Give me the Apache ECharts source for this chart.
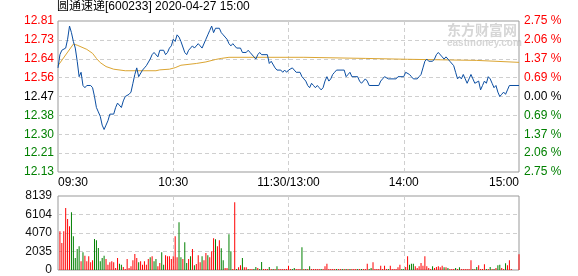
<!DOCTYPE html>
<html>
<head>
<meta charset="utf-8">
<script src="https://cdn.jsdelivr.net/npm/echarts@6/dist/echarts.min.js"></script>
<style>
html,body{margin:0;padding:0;background:#fff;}
#chart{width:578px;height:276px;}
</style>
</head>
<body>
<div id="chart"></div>
<script>
// ---------- data ----------
const titleText = '圆通速递[600233] 2020-04-27 15:00';
const preClose = 12.47;
const priceTickLabels = ['12.13','12.21','12.30','12.38','12.47','12.56','12.64','12.73','12.81']; // bottom -> top
const pctTickLabels = ['2.75','2.06','1.37','0.69','0.00','0.69','1.37','2.06','2.75'];          // bottom -> top
const volTickLabels = ['0','2035','4070','6104','8139'];
const timeLabels = ['09:30','10:30','11:30/13:00','14:00','15:00'];

// price line: minute index and price
const priceMinutes = [0,1,2,3,4,5,6,7,8,9,10,11,12,13,14,15,17,18,19,20,21,22,23,24,25,26,27,29,30,31,32,33,34,35,37,38,39,40,41,42,43,44,45,46,47,48,49,50,51,52,53,55,56,57,58,59,60,
  61,62,63,64,65,66,67,68,69,70,71,72,73,74,75,76,77,78,79,80,81,82,84,85,86,87,88,89,90,91,92,93,95,96,98,99,100,101,102,103,104,105,106,109,110,111,112,113,114,116,117,118,119,120,
  121,122,123,124,126,127,128,129,130,131,132,133,134,135,136,137,138,139,140,141,142,143,144,145,149,150,151,152,153,156,157,158,159,160,161,162,167,168,169,170,171,172,176,177,180,
  181,182,183,184,185,187,188,189,190,191,192,193,195,196,197,198,199,200,201,202,203,204,205,206,207,208,209,210,211,212,213,214,215,216,217,218,219,220,221,222,223,224,225,226,227,228,229,230,231,232,233,234,235,240];
const priceValues = [12.60,12.66,12.68,12.68,12.69,12.73,12.79,12.76,12.72,12.69,12.63,12.56,12.58,12.52,12.51,12.52,12.52,12.51,12.47,12.42,12.40,12.38,12.34,12.32,12.34,12.36,12.39,12.39,12.42,12.44,12.44,12.42,12.45,12.47,12.48,12.49,12.53,12.57,12.60,12.56,12.56,12.59,12.60,12.61,12.61,12.64,12.66,12.67,12.67,12.65,12.68,12.68,12.66,12.67,12.69,12.70,12.73,
  12.72,12.75,12.74,12.72,12.72,12.67,12.66,12.68,12.69,12.70,12.69,12.69,12.71,12.70,12.69,12.69,12.73,12.75,12.77,12.79,12.76,12.78,12.78,12.76,12.75,12.74,12.73,12.71,12.70,12.71,12.70,12.69,12.69,12.67,12.67,12.68,12.67,12.67,12.65,12.64,12.66,12.67,12.66,12.66,12.62,12.63,12.63,12.60,12.59,12.59,12.58,12.59,12.58,12.59,
  12.59,12.60,12.59,12.58,12.58,12.56,12.55,12.54,12.52,12.51,12.53,12.52,12.51,12.52,12.51,12.50,12.51,12.54,12.56,12.54,12.55,12.57,12.58,12.59,12.59,12.56,12.57,12.58,12.56,12.56,12.54,12.53,12.53,12.55,12.54,12.52,12.52,12.54,12.55,12.56,12.56,12.55,12.55,12.56,12.56,
  12.58,12.58,12.57,12.56,12.55,12.55,12.56,12.57,12.60,12.63,12.64,12.63,12.63,12.64,12.66,12.67,12.67,12.65,12.64,12.65,12.64,12.63,12.63,12.61,12.58,12.55,12.56,12.55,12.57,12.55,12.53,12.55,12.57,12.55,12.53,12.53,12.54,12.50,12.52,12.54,12.53,12.56,12.55,12.53,12.51,12.52,12.49,12.47,12.48,12.49,12.48,12.50,12.52,12.52];

// average price line
const avgMinutes = [0,8,10,15,18,20,22,25,29,35,51,53,58,61,64,72,77,82,85,89,128,129,160,161,182,183,218,219,240];
const avgValues = [12.61,12.708,12.703,12.684,12.666,12.643,12.624,12.606,12.594,12.587,12.587,12.591,12.594,12.601,12.612,12.620,12.627,12.638,12.643,12.648,12.648,12.643,12.643,12.639,12.639,12.634,12.634,12.628,12.625];

// volume per minute, minutes 1..240
const volumes = [
  4257,2973,4257,6826,5615,4808,6349,3707,1321,2312,
  2606,954,1945,1578,954,1505,844,1064,3413,3266,
  2422,954,1321,1578,1211,587,844,954,844,220,
  1321,697,587,330,110,1211,220,404,1064,1762,
  1321,844,954,587,954,587,1211,1395,1505,954,
  1211,404,771,1945,587,1615,1505,1505,1211,1505,
  3707,1395,5248,1395,1211,3046,771,1211,1505,2312,
  514,661,1615,844,1505,1064,1872,1615,1395,2055,
  3487,3376,2606,3266,2385,1064,220,220,3927,2055,
  110,7450,110,294,514,1321,294,294,110,110,
  110,110,330,220,110,881,110,110,110,330,
  110,110,110,404,110,110,110,110,110,477,
  110,110,220,110,110,110,2496,110,110,110,
  404,110,110,110,110,110,110,110,404,697,
  110,110,110,110,110,110,110,110,110,110,
  110,110,110,110,110,110,110,110,110,110,
  697,110,220,844,110,110,110,477,110,477,
  110,110,477,110,110,110,294,587,110,110,
  330,1505,587,697,697,404,220,404,771,477,
  1505,404,220,110,404,220,330,404,294,477,
  294,294,220,110,110,110,220,110,294,110,
  110,110,110,110,1064,110,110,330,514,110,
  110,624,110,110,330,110,110,220,514,587,
  220,110,734,514,1064,110,0,0,0,1725];
const volumeUpDown =
  'rrrrrrgggg' + 'grgrrrrrgg' + 'ggggrrrrrr' + 'rggrrrrrrr' + 'rgrrrrrgrg' +
  'grrggrrrrr' + 'rrggrggrgr' + 'grrrgrrgrr' + 'rgrrggrrgg' + 'rrgrrgrrgr' +
  'rggrggrrrg' + 'rgrgrrrrrr' + 'rggrrrgrgr' + 'grrrrrgrrr' + 'rrrrgrrgrg' +
  'rgrrrgrgrr' + 'rggrrrrrrr' + 'rgrrrrrrgg' + 'rrgggrrrrr' + 'rrrrgrrrrr' +
  'grgrrrgrgr' + 'rrrrrgrgrr' + 'rrgrgrgrgg' + 'rrgrrrrrrr';

// ---------- chart ----------
const RED = '#ff0000', GREEN = '#008000', BLACK = '#000000';
const FONT = '"Liberation Sans", Arial, sans-serif';
const toPct = p => (p / preClose - 1) * 100;
const PCT_MAX = 2.75, PCT_STEP = 0.6875;
const tickIdx = v => Math.round((v + PCT_MAX) / PCT_STEP);
const sideColor = v => (v > 1e-9 ? RED : (v < -1e-9 ? GREEN : BLACK));

const dashed = {show: true, lineStyle: {color: '#cfcfcf', type: [4, 3], width: 1}, showMinLine: false, showMaxLine: false};

const chart = echarts.init(document.getElementById('chart'), null, {renderer: 'canvas'});
chart.setOption({
  animation: false,
  backgroundColor: '#ffffff',
  textStyle: {fontFamily: FONT},
  graphic: [
    {type: 'text', left: 57, top: 1, style: {text: titleText, fill: '#000', font: '12px "Liberation Sans", "Noto Sans CJK SC", sans-serif'}},
    {type: 'text', left: 447, top: 23, z: -1, style: {text: '东方财富网', fill: '#d6d6d6', font: 'bold 14px "Noto Sans CJK SC", sans-serif'}},
    {type: 'text', left: 447, top: 38, z: -1, style: {text: 'eastmoney.com', fill: '#d6d6d6', font: 'bold 10px "Liberation Sans", sans-serif'}}
  ],
  grid: [
    {left: 58, top: 21, width: 461, height: 151, show: true, borderColor: '#999', borderWidth: 1, backgroundColor: 'transparent'},
    {left: 58, top: 196, width: 461, height: 74, show: true, borderColor: '#999', borderWidth: 1, backgroundColor: 'transparent'}
  ],
  xAxis: [
    {type: 'value', gridIndex: 0, min: 0, max: 240, interval: 60,
     axisLine: {show: false}, axisTick: {show: false}, splitLine: dashed,
     axisLabel: {show: true, margin: 5, fontSize: 12, color: '#000', fontFamily: FONT,
       alignMinLabel: 'left', alignMaxLabel: 'right',
       formatter: v => timeLabels[Math.round(v / 60)]}},
    {type: 'value', gridIndex: 1, min: 0, max: 240, interval: 60,
     axisLine: {show: false}, axisTick: {show: false}, splitLine: dashed, axisLabel: {show: false}}
  ],
  yAxis: [
    {type: 'value', gridIndex: 0, position: 'left', min: -PCT_MAX, max: PCT_MAX, interval: PCT_STEP,
     axisLine: {show: false}, axisTick: {show: false}, splitLine: dashed,
     axisLabel: {margin: 4, fontSize: 12, fontFamily: FONT,
       formatter: v => priceTickLabels[tickIdx(v)], color: v => sideColor(v)}},
    {type: 'value', gridIndex: 0, position: 'right', min: -PCT_MAX, max: PCT_MAX, interval: PCT_STEP,
     axisLine: {show: false}, axisTick: {show: false}, splitLine: {show: false},
     axisLabel: {margin: 5, fontSize: 12, fontFamily: FONT,
       formatter: v => pctTickLabels[tickIdx(v)] + ' %', color: v => sideColor(v)}},
    {type: 'value', gridIndex: 1, position: 'left', min: 0, max: 8139, interval: 2034.75,
     axisLine: {show: false}, axisTick: {show: false}, splitLine: dashed,
     axisLabel: {margin: 6, fontSize: 12, color: '#111', fontFamily: FONT,
       formatter: v => volTickLabels[Math.round(v / 2034.75)]}}
  ],
  series: [
    {type: 'line', xAxisIndex: 0, yAxisIndex: 0, symbol: 'none', z: 3,
     lineStyle: {color: '#dba532', width: 1},
     data: avgMinutes.map((m, k) => [m, toPct(avgValues[k])])},
    {type: 'line', xAxisIndex: 0, yAxisIndex: 0, symbol: 'none', z: 4,
     lineStyle: {color: '#0b4ea2', width: 1},
     data: priceMinutes.map((m, k) => [m, toPct(priceValues[k])])},
    {type: 'bar', xAxisIndex: 1, yAxisIndex: 2, barWidth: 1,
     data: volumes.map((v, k) => ({value: [k + 1, v], itemStyle: {color: volumeUpDown[k] === 'r' ? RED : GREEN}}))}
  ]
});
</script>
</body>
</html>
